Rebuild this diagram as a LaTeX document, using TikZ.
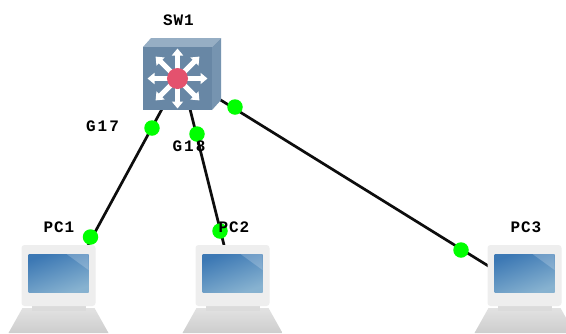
\documentclass[tikz,border=0pt]{standalone}
\usepackage{fontspec}
\setmainfont{Liberation Mono}[LetterSpace=6]
\usetikzlibrary{arrows.meta}
\definecolor{swfront}{RGB}{104,135,165}
\definecolor{swtop}{RGB}{150,174,196}
\definecolor{swside}{RGB}{118,148,176}
\definecolor{swhub}{RGB}{228,82,110}
\definecolor{scrA}{RGB}{60,120,180}
\definecolor{scrB}{RGB}{135,178,208}
\definecolor{pcbody}{RGB}{238,238,238}
\definecolor{pcbase}{RGB}{205,205,205}
\tikzset{
  x=1pt,y=-1pt,
  link/.style={draw=black!95,line width=2.7pt},
  portdot/.style={circle,fill=green,inner sep=0pt,minimum size=15.5pt},
  lbl/.style={font=\bfseries\fontsize{16}{17}\selectfont,inner sep=0pt,text=black},
  spokes/.style={draw=white,line width=5pt,-{Triangle[length=7pt,width=11pt]}},
  pcmark/.pic={
    \shade[top color=pcbody!95!black,bottom color=pcbase] (-36,63) -- (36,63) -- (50,88) -- (-50,88) -- cycle;
    \fill[pcbody!92!black] (-27,57) rectangle (27,66);
    \fill[pcbody,rounded corners=3pt] (-37,0) rectangle (37,61);
    \shade[left color=scrA,right color=scrB,shading angle=20] (-30,9) rectangle (30,47);
    \fill[white,opacity=.2] (8,9) -- (30,9) -- (30,25) -- cycle;
  }
}
\begin{document}
\begin{tikzpicture}
\useasboundingbox (0,0) rectangle (566,333);
\fill[white] (0,0) rectangle (566,333);
\coordinate (swa) at (162,109);
\coordinate (swb) at (190,109);
\coordinate (swc) at (219,99);
\coordinate (pc1p) at (88,245);
\coordinate (pc2p) at (224,245);
\coordinate (pc3p) at (490,267);
\draw[link] (swa) -- (pc1p);
\draw[link] (swb) -- (pc2p);
\draw[link] (swc) -- (pc3p);
\fill[swtop] (143,47) -- (151,38) -- (221,38) -- (212,47) -- cycle;
\fill[swside] (212,47) -- (221,38) -- (221,100) -- (212,110) -- cycle;
\node[fill=swfront,inner sep=0pt,minimum width=69pt,minimum height=63pt] (sw) at (177.5,78.5) {};
\foreach \a in {0,45,...,315}{
  \draw[spokes] (sw.center) -- +(\a:{mod(\a,90)==0 ? 30 : 31});
}
\node[circle,fill=swhub,inner sep=0pt,minimum size=21pt] (hub) at (sw.center) {};
\pic at (58.5,245) {pcmark};
\pic at (232.5,245) {pcmark};
\pic at (524.5,245) {pcmark};
\node[portdot] (d1) at (152,128) {};
\node[portdot] (d2) at (90.5,237) {};
\node[portdot] (d3) at (197,134) {};
\node[portdot] (d4) at (220,231) {};
\node[portdot] (d5) at (235,107) {};
\node[portdot] (d6) at (461,250) {};
\node[lbl] (t0) at (178.5,20) {SW1};
\node[lbl] (t1) at (59,227) {PC1};
\node[lbl] (t2) at (234,227) {PC2};
\node[lbl] (t3) at (526,227) {PC3};
\node[lbl] (t4) at (102.5,126) {G\kern2pt1\kern2pt7};
\node[lbl] (t5) at (189,146) {G\kern2pt1\kern2pt8};
\end{tikzpicture}
\end{document}
